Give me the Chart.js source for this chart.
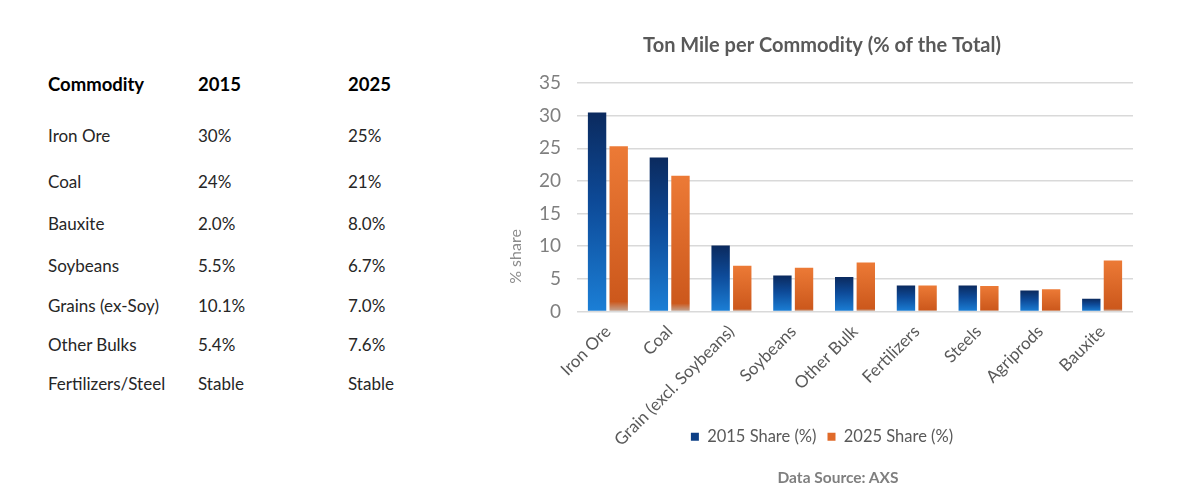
<!DOCTYPE html>
<html>
<head>
<meta charset="utf-8">
<script src="https://cdn.jsdelivr.net/npm/chart.js@4.4.1/dist/chart.umd.min.js"></script>
<style>
  html, body { margin: 0; padding: 0; background: #fff; }
  body { width: 1192px; height: 496px; position: relative; overflow: hidden; font-family: Lato, "Noto Sans", sans-serif; }
  #tbl { position: absolute; left: 48px; top: 58px; border-collapse: collapse; color: #262626; font-size: 17px; }
  #tbl td { padding: 0; vertical-align: middle; white-space: nowrap; }
  #tbl td.c1 { width: 150px; }
  #tbl td.c2 { width: 150px; }
  #tbl tr.head td { font-weight: bold; font-size: 18.5px; color: #000; }
  #chartBox { position: absolute; left: 495px; top: 20px; width: 665px; height: 476px; }
  #source { position: absolute; left: 738px; width: 200px; top: 468px; text-align: center; color: #7f7f7f; font-weight: bold; font-size: 15.5px; }
</style>
</head>
<body>
<table id="tbl"></table>
<div id="chartBox"><canvas id="shareChart"></canvas></div>
<div id="source">Data Source: AXS</div>
<script>
// left table
const tableHeader = ['Commodity', '2015', '2025'];
const tableRows = [
  ['Iron Ore', '30%', '25%'],
  ['Coal', '24%', '21%'],
  ['Bauxite', '2.0%', '8.0%'],
  ['Soybeans', '5.5%', '6.7%'],
  ['Grains (ex-Soy)', '10.1%', '7.0%'],
  ['Other Bulks', '5.4%', '7.6%'],
  ['Fertilizers/Steel', 'Stable', 'Stable']
];

// chart data
const commodities = ['Iron Ore', 'Coal', 'Grain (excl. Soybeans)', 'Soybeans', 'Other Bulk', 'Fertilizers', 'Steels', 'Agriprods', 'Bauxite'];
const share2015 = [30.5, 23.6, 10.1, 5.5, 5.3, 4.0, 4.0, 3.2, 1.95];
const share2025 = [25.3, 20.8, 7.0, 6.7, 7.5, 4.0, 3.9, 3.4, 7.8];
const yTicks = [0, 5, 10, 15, 20, 25, 30, 35];

// build the table
const rowHeights = [52, 51, 40, 44, 40, 41, 36, 42];
const tbl = document.getElementById('tbl');
[tableHeader].concat(tableRows).forEach(function (r, i) {
  const tr = document.createElement('tr');
  if (i === 0) tr.className = 'head';
  tr.style.height = rowHeights[i] + 'px';
  r.forEach(function (txt, j) {
    const td = document.createElement('td');
    td.className = 'c' + (j + 1);
    td.textContent = txt;
    tr.appendChild(td);
  });
  tbl.appendChild(tr);
});

// per bar vertical gradient
function barFill(stops, fallback) {
  return function (ctx) {
    const chart = ctx.chart;
    if (ctx.type !== 'data' || !chart.chartArea || !chart.scales.y) return fallback;
    const y = chart.scales.y;
    const top = y.getPixelForValue(ctx.raw);
    const bottom = y.getPixelForValue(0);
    if (!isFinite(top) || bottom - top < 1) return fallback;
    const g = chart.ctx.createLinearGradient(0, top, 0, bottom);
    stops.forEach(function (s) { g.addColorStop(s[0], s[1]); });
    return g;
  };
}

const blueStops = [[0, '#0b2a5e'], [0.45, '#0d4a98'], [1, '#1b7fd6']];
const orangeStops = [[0, '#ec7a36'], [0.94, '#cc581c'], [1, '#c2a898']];
const legendColors = ['#0d3f86', '#e06a2a'];

// y axis title sits low, like the original
const yTitlePlugin = {
  id: 'yTitle',
  afterLayout: function (chart) {
    // let the long rotated x labels run past the squeezed axis box
    chart.scales.x.bottom = chart.height;
  },
  afterDraw: function (chart) {
    const c = chart.ctx;
    c.save();
    c.translate(chart.chartArea.left - 61, chart.chartArea.bottom - 55);
    c.rotate(-Math.PI / 2);
    c.fillStyle = '#8c8c8c';
    c.font = '16px Lato';
    c.textAlign = 'center';
    c.textBaseline = 'middle';
    c.fillText('% share', 0, 0);
    c.restore();
  }
};

const data = {
  labels: commodities,
  datasets: [{
    label: '2015 Share (%)',
    data: share2015,
    backgroundColor: barFill(blueStops, legendColors[0]),
    categoryPercentage: 0.7,
    barPercentage: 0.85
  }, {
    label: '2025 Share (%)',
    data: share2025,
    backgroundColor: barFill(orangeStops, legendColors[1]),
    categoryPercentage: 0.7,
    barPercentage: 0.85
  }]
};

const config = {
  type: 'bar',
  data: data,
  plugins: [yTitlePlugin],
  options: {
    responsive: true,
    maintainAspectRatio: false,
    animation: false,
    layout: { padding: { left: 16, right: 27, top: 0, bottom: 41 } },
    scales: {
      x: {
        grid: { display: false },
        border: { display: false },
        afterFit: function (axis) { axis.height = 106; },
        ticks: {
          color: '#595959',
          font: { family: 'Lato', size: 17 },
          minRotation: 45,
          maxRotation: 45,
          padding: 2
        }
      },
      y: {
        min: 0,
        max: 35,
        afterBuildTicks: function (axis) {
          axis.ticks = yTicks.map(function (v) { return { value: v }; });
        },
        afterFit: function (axis) { axis.width = 66; },
        grid: { color: '#d9d9d9', lineWidth: 1.5, drawTicks: false },
        border: { display: false },
        ticks: {
          color: '#7f7f7f',
          font: { family: 'Lato', size: 19 },
          padding: 16
        }
      }
    },
    plugins: {
      title: {
        display: true,
        text: 'Ton Mile per Commodity (% of the Total)',
        color: '#595959',
        font: { family: 'Lato', size: 20, weight: 'bold' },
        padding: { top: 14, bottom: 25 }
      },
      legend: {
        position: 'bottom',
        labels: {
          color: '#595959',
          font: { family: 'Lato', size: 16.5 },
          boxWidth: 8,
          boxHeight: 8,
          padding: 11,
          generateLabels: function (chart) {
            const items = Chart.defaults.plugins.legend.labels.generateLabels(chart);
            items.forEach(function (it, i) {
              it.fillStyle = legendColors[i];
              it.strokeStyle = legendColors[i];
              it.lineWidth = 0;
            });
            return items;
          }
        }
      },
      tooltip: { enabled: false }
    }
  }
};

new Chart(document.getElementById('shareChart').getContext('2d'), config);
</script>
</body>
</html>
